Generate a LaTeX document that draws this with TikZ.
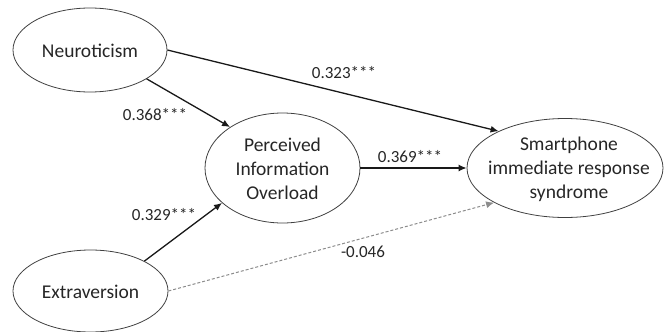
\documentclass[tikz,border=0pt]{standalone}
\usepackage{fontspec}
\setmainfont{Carlito}
\usetikzlibrary{shapes.geometric,arrows.meta}
\begin{document}
\begin{tikzpicture}[x=1pt,y=-1pt,
  ell/.style={draw=black!75,line width=0.8pt,ellipse,inner sep=0pt},
  ntext/.style={align=center,text=black!85,font=\fontsize{19.5}{24}\selectfont,inner sep=0pt},
  coef/.style={text=black!85,font=\fontsize{17}{20}\selectfont,inner sep=0pt},
  arr/.style={line width=1.3pt,draw=black!90,-{Latex[length=8pt,width=7pt]}},
  darr/.style={line width=1pt,draw=black!45,dashed,dash pattern=on 3pt off 2pt,-{Latex[length=8pt,width=7pt]}}]
\useasboundingbox (0,0) rectangle (664,332);
% ellipses
\node[ell,minimum width=154pt,minimum height=84pt] (neu) at (90,50) {};
\node[ntext] (neut) at (90,51) {Neuroticism};
\node[ell,minimum width=155pt,minimum height=110pt] (pio) at (282.5,168) {};
\node[ntext] (piot) at (282.5,169) {Perceived\\Information\\Overload};
\node[ell,minimum width=196pt,minimum height=99pt] (smart) at (565,168) {};
\node[ntext] (smartt) at (569,169) {Smartphone\\immediate response\\syndrome};
\node[ell,minimum width=155pt,minimum height=82pt] (ext) at (90.5,291) {};
\node[ntext] (extt) at (90.5,292) {Extraversion};
% connectors
\draw[arr] (neu.east) -- (smart.151.4);
\draw[arr] (neu.-27.8) -- (pio.142.7);
\draw[arr] (ext.29.4) -- (pio.210.5);
\draw[arr] (pio.east) -- (smart.west);
\draw[darr] (ext.east) -- (smart.206.2);
% coefficients
\node[coef] (c1) at (344,73) {0.323***};
\node[coef] (c2) at (155,115) {0.368***};
\node[coef] (c3) at (164,215) {0.329***};
\node[coef] (c4) at (410,157) {0.369***};
\node[coef] (c5) at (363,252) {-0.046};
\end{tikzpicture}
\end{document}
